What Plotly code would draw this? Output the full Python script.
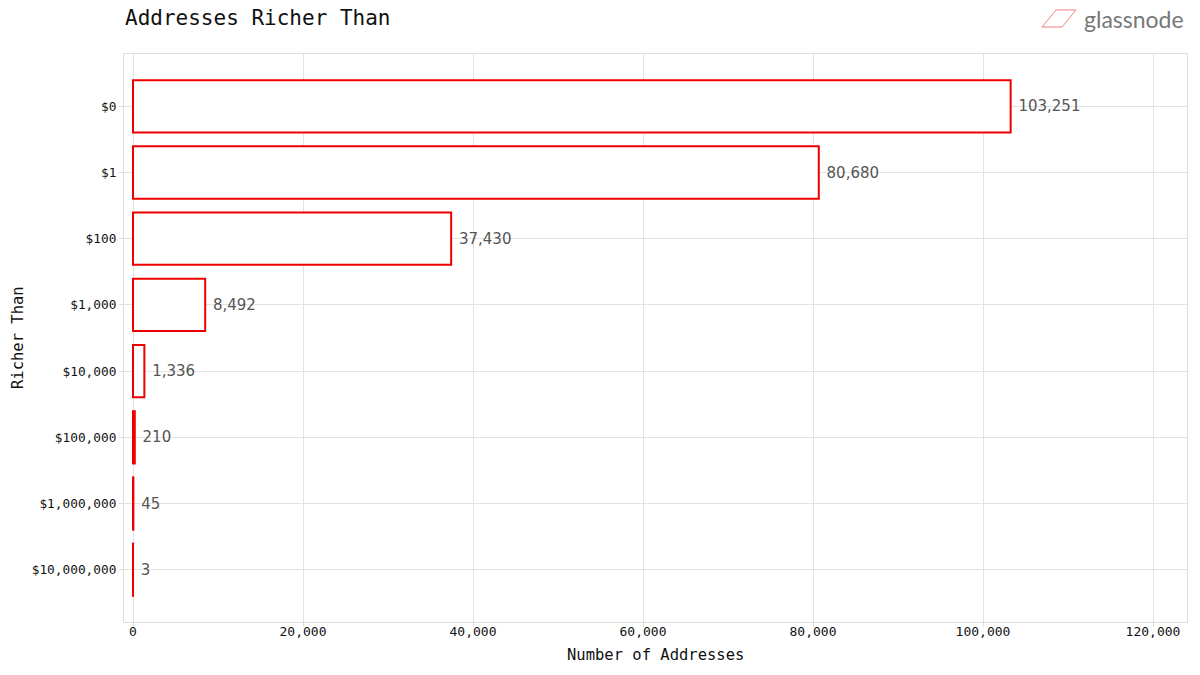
import plotly.graph_objects as go

categories = ["$0", "$1", "$100", "$1,000", "$10,000", "$100,000", "$1,000,000", "$10,000,000"]
values = [103251, 80680, 37430, 8492, 1336, 210, 45, 3]
tick_vals = [0, 20000, 40000, 60000, 80000, 100000, 120000]
tick_text = ["0", "20,000", "40,000", "60,000", "80,000", "100,000", "120,000"]

mono = "DejaVu Sans Mono"

fig = go.Figure()
fig.add_trace(go.Bar(
    x=values, y=categories, orientation="h",
    marker=dict(color="white", line=dict(color="#ee0000", width=2)),
    width=0.79,
    text=[f"\u00a0{v:,}" for v in values], textposition="outside",
    textfont=dict(family="DejaVu Sans", size=15, color="#555555"),
    cliponaxis=False, showlegend=False, hoverinfo="skip",
))

fig.update_layout(
    width=1200, height=675,
    margin=dict(l=124, r=13, t=54, b=53, autoexpand=False),
    paper_bgcolor="white", plot_bgcolor="white",
    title=dict(text="Addresses Richer Than", x=125/1200, xanchor="left", y=1-18/675, yanchor="middle",
               font=dict(family=mono, size=21, color="#111111")),
    bargap=0.2,
    xaxis=dict(range=[-1060, 124000], tickvals=tick_vals, ticktext=tick_text, automargin=False,
               showgrid=True, gridcolor="#e3e3e3", gridwidth=1, zeroline=False,
               ticks="outside", ticklen=4, tickcolor="#dddddd", ticklabelstandoff=-7,
               tickfont=dict(family=mono, size=13, color="#111111"),
               showline=True, linecolor="#dddddd", mirror=True),
    yaxis=dict(categoryorder="array", categoryarray=categories, autorange=False, range=[7.79, -0.79],
               automargin=False,
               showgrid=True, gridcolor="#e3e3e3", gridwidth=1,
               ticks="outside", ticklen=4, tickcolor="#dddddd",
               tickfont=dict(family=mono, size=12.8, color="#111111"),
               showline=True, linecolor="#dddddd", mirror=True),
)

# axis titles
fig.add_annotation(text="Number of Addresses", xref="paper", yref="paper", x=0.5, y=(622 - 655) / 568,
                   xanchor="center", yanchor="middle", showarrow=False,
                   font=dict(family=mono, size=15.5, color="#111111"))
fig.add_annotation(text="Richer Than", xref="paper", yref="paper", x=(18 - 124) / 1063, y=0.5,
                   xanchor="center", yanchor="middle", showarrow=False, textangle=-90,
                   font=dict(family=mono, size=15.5, color="#111111"))

# logo (paper coords are relative to the plot area)
fig.add_shape(type="path", xref="paper", yref="paper",
              path="M 0.8636,1.0475 L 0.8824,1.0475 L 0.8956,1.0775 L 0.8768,1.0775 Z",
              line=dict(color="#f08080", width=1), fillcolor="rgba(0,0,0,0)")
fig.add_annotation(text="glassnode", xref="paper", yref="paper", x=(1186 - 124) / 1063, y=(622 - 19) / 568,
                   xanchor="right", yanchor="middle", showarrow=False,
                   font=dict(family="Lato", size=23, color="#777777"))

fig.write_html("out.html", config={"displayModeBar": False},
               post_script="document.body.style.margin='0px';")
